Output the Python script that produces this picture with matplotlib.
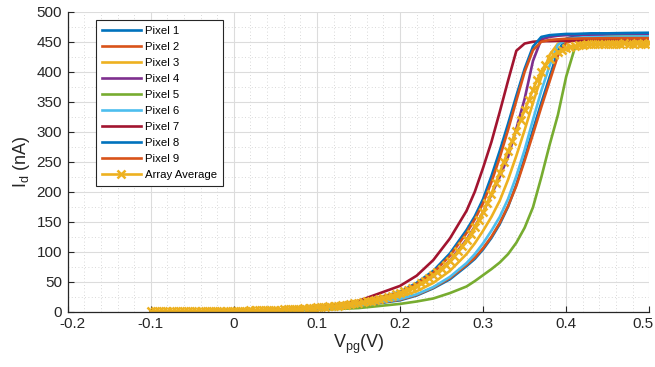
import numpy as np
import matplotlib
matplotlib.use('Agg')
import matplotlib.pyplot as plt
import matplotlib.transforms as mtransforms
from matplotlib.ticker import MultipleLocator

plt.rcParams['font.family'] = ['Liberation Sans', 'DejaVu Sans']
plt.rcParams['axes.unicode_minus'] = False
plt.rcParams['mathtext.fontset'] = 'custom'
plt.rcParams['mathtext.rm'] = 'Liberation Sans'
plt.rcParams['mathtext.it'] = 'Liberation Sans:italic'

# ---- data (V_pg in V, I_d in nA) ----
vpg = [-0.10, -0.05, 0.00, 0.05, 0.10, 0.15, 0.20, 0.22, 0.24, 0.26, 0.28,
       0.29, 0.30, 0.31, 0.32, 0.33, 0.34, 0.35, 0.36, 0.37, 0.38, 0.39, 0.40,
       0.41, 0.42, 0.43, 0.45, 0.47, 0.50]

pixel1 = [0.2, 0.4, 0.9, 2.0, 4.6, 9.5, 19, 27, 39, 54, 76,
          88, 104, 123, 146, 175, 212, 256, 303, 348, 391, 435, 455,
          459, 461, 461.5, 462, 462.5, 463]
pixel2 = [0.2, 0.4, 0.9, 2.1, 4.7, 9.8, 20, 28, 40, 56, 78,
          90, 106, 125, 148, 176, 210, 252, 296, 341, 384, 427, 448,
          453, 455, 455.5, 456, 456.5, 457]
pixel3 = [0.2, 0.5, 1.0, 2.3, 5.2, 11.5, 25, 34, 48, 68, 96,
          114, 135, 158, 185, 220, 260, 303, 348, 391, 428, 447, 452,
          454, 455, 455, 455.5, 456, 456]
pixel4 = [0.3, 0.5, 1.0, 2.5, 5.8, 13.5, 30, 42, 59, 85, 120,
          142, 166, 195, 225, 258, 305, 355, 418, 454, 458, 460, 461,
          461, 461.5, 461.5, 462, 462, 462]
pixel5 = [0.2, 0.3, 0.6, 1.4, 3.0, 6.0, 13, 17, 22, 31, 42,
          51, 61, 71, 82, 96, 115, 140, 174, 224, 278, 328, 392,
          438, 451, 456, 458, 459, 459]
pixel6 = [0.2, 0.4, 0.9, 2.1, 4.8, 10, 21, 29, 41, 58, 81,
          96, 114, 135, 158, 188, 226, 270, 320, 368, 410, 445, 454,
          456, 457, 457.5, 458, 458.5, 459]
pixel7 = [0.3, 0.6, 1.2, 3.0, 7.0, 18, 43, 60, 86, 122, 168,
          200, 240, 283, 333, 385, 435, 447, 450, 451, 451, 451.5, 451.5,
          452, 452, 452, 452, 452, 452]
pixel8 = [0.3, 0.5, 1.1, 2.7, 6.2, 15, 33, 48, 68, 97, 136,
          159, 188, 226, 268, 313, 360, 405, 442, 458, 461, 462, 463,
          463, 463.5, 464, 464, 464.5, 465]
pixel9 = [0.3, 0.5, 1.1, 2.6, 6.0, 14.5, 32, 46, 65, 93, 131,
          154, 181, 216, 257, 303, 352, 400, 436, 450, 453, 454, 455,
          455, 455.5, 455.5, 456, 456, 456]

# array average sampled every 5 mV from -0.1 V to 0.5 V
avg_vpg = np.linspace(-0.1, 0.5, 121)
avg_id = [0.5, 0.5, 0.5, 0.6, 0.6, 0.6, 0.7, 0.7, 0.8, 0.8, 0.9, 0.9, 1.0, 1.0, 1.1, 1.2, 1.2, 1.3, 1.4, 1.5,
          1.6, 1.7, 1.8, 1.9, 2.0, 2.2, 2.3, 2.5, 2.7, 2.9, 3.1, 3.4, 3.7, 4.0, 4.4, 4.8, 5.2, 5.7, 6.2, 6.6,
          7.0, 7.5, 8.1, 8.8, 9.4, 10.2, 11.0, 11.8, 12.7, 13.7, 14.8, 15.9, 17.1, 18.5, 19.9, 21.4, 23.1, 24.9, 26.8, 28.8,
          31.0, 33.7, 36.7, 39.9, 43.4, 47.2, 51.3, 55.8, 60.7, 66.0, 71.8, 78.1, 84.9, 92.3, 100.4, 109.2, 118.8, 129.2, 140.5, 152.8,
          166, 181, 197, 214, 232, 250, 268, 285, 302, 319, 336, 353, 370, 386, 400, 412, 421, 428, 433, 436,
          439, 441, 443, 444, 445, 445.5, 446, 446, 446.5, 446.5, 447, 447, 446.5, 447, 447.5, 447, 447, 447.5, 447, 447,
          447.5]

labels = ['Pixel 1', 'Pixel 2', 'Pixel 3', 'Pixel 4', 'Pixel 5', 'Pixel 6',
          'Pixel 7', 'Pixel 8', 'Pixel 9']
colors = ['#0072BD', '#D95319', '#EDB120', '#7E2F8E', '#77AC30', '#4DBEEE',
          '#A2142F', '#0072BD', '#D95319']
avg_color = '#EDB120'

xticks = [-0.2, -0.1, 0, 0.1, 0.2, 0.3, 0.4, 0.5]
xticklabels = ['-0.2', '-0.1', '0', '0.1', '0.2', '0.3', '0.4', '0.5']
yticks = [0, 50, 100, 150, 200, 250, 300, 350, 400, 450, 500]

# ---- figure ----
fig = plt.figure(figsize=(6.55, 3.67), dpi=100)
ax = fig.add_axes([0.1033, 0.1507, 0.888, 0.8173])

series = [pixel1, pixel2, pixel3, pixel4, pixel5, pixel6, pixel7, pixel8, pixel9]
for vals, lab, col in zip(series, labels, colors):
    ax.plot(vpg, vals, color=col, lw=1.9, label=lab, solid_joinstyle='round')
ax.plot(avg_vpg, avg_id, color=avg_color, lw=1.9, marker='x', ms=6, mew=1.8,
        label='Array Average')

ax.set_xlim(-0.2, 0.5)
ax.set_ylim(0, 500)
ax.set_xticks(xticks)
ax.set_xticklabels(xticklabels)
ax.set_yticks(yticks)
ax.xaxis.set_minor_locator(MultipleLocator(0.02))
ax.yaxis.set_minor_locator(MultipleLocator(25))

ax.grid(which='major', color='#dcdcdc', lw=0.8, ls='-')
ax.grid(which='minor', color='#cccccc', lw=0.6, ls=(0, (1, 3)))
ax.set_axisbelow(True)

for s in ['top', 'right']:
    ax.spines[s].set_visible(False)
for s in ['left', 'bottom']:
    ax.spines[s].set_color('#262626')
    ax.spines[s].set_linewidth(0.9)

ax.tick_params(which='major', direction='in', length=4, width=0.8,
               colors='#262626', labelsize=11, pad=4)
ax.tick_params(which='minor', length=0)

ax.set_xlabel(r'$\mathrm{V_{pg}}$(V)', fontsize=13, color='#262626', labelpad=1)
ax.set_ylabel(r'$\mathrm{I_d}$ (nA)', fontsize=13, color='#262626', labelpad=3)

leg = ax.legend(loc='upper left', bbox_to_anchor=(0.0485, 0.972),
                borderaxespad=0, fontsize=8.2, frameon=True, fancybox=False,
                edgecolor='#262626', framealpha=1, handlelength=3.5,
                handletextpad=0.35, labelspacing=0.53, borderpad=0.5)
leg.get_frame().set_linewidth(0.8)

# nudge the end x tick labels like the reference
xt = ax.xaxis.get_major_ticks()
xt[0].label1.set_transform(xt[0].label1.get_transform() +
                           mtransforms.ScaledTranslation(5/100, 0, fig.dpi_scale_trans))
xt[-1].label1.set_transform(xt[-1].label1.get_transform() +
                            mtransforms.ScaledTranslation(-6/100, 0, fig.dpi_scale_trans))

fig.savefig('out.png', dpi=100)
